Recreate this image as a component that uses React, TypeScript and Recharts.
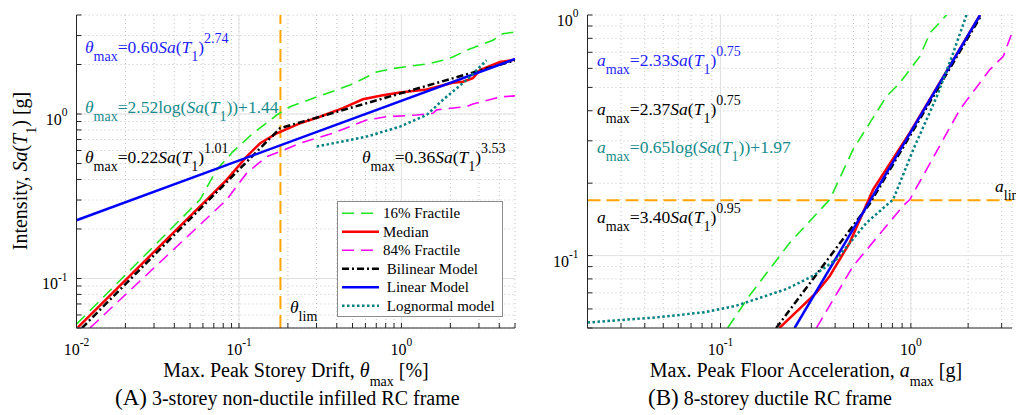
import React from 'react';
import { LineChart, Line, XAxis, YAxis, CartesianGrid, ReferenceLine } from 'recharts';

const FONT = '"Liberation Serif", "Times New Roman", serif';

// ---- panel A: drift [%] vs Sa(T1) [g]
const aGreenDrift = [0.01, 0.0575, 0.0729, 0.0919, 0.122, 0.171, 0.206, 0.301, 0.399, 0.482, 0.611, 0.703, 0.886, 1.5, 1.8, 2.07, 2.52, 3.66, 4.21, 5.0];
const aGreenSa = [0.0527, 0.301, 0.458, 0.591, 0.764, 0.986, 1.107, 1.27, 1.4, 1.5, 1.68, 1.8, 1.89, 2.03, 2.12, 2.22, 2.44, 2.81, 3.08, 3.15];
const aMedianDrift = [0.0102, 0.0632, 0.0839, 0.1115, 0.135, 0.171, 0.237, 0.315, 0.436, 0.579, 0.769, 0.979, 1.43, 2.07, 2.39, 2.75, 3.04, 4.04, 5.0];
const aMedianSa = [0.0505, 0.301, 0.398, 0.551, 0.664, 0.764, 0.878, 0.963, 1.087, 1.23, 1.3, 1.35, 1.41, 1.55, 1.57, 1.65, 1.85, 2.07, 2.14];
const aMagentaDrift = [0.0121, 0.0839, 0.1115, 0.148, 0.179, 0.237, 0.379, 0.611, 0.811, 1.24, 1.56, 1.65, 2.52, 2.75, 4.04, 5.0];
const aMagentaSa = [0.05, 0.301, 0.437, 0.551, 0.591, 0.664, 0.764, 0.92, 0.963, 0.986, 1.01, 1.06, 1.11, 1.15, 1.27, 1.29];
const aBilinearDrift = [0.0108, 0.179, 5.0];
const aBilinearSa = [0.05, 0.82, 2.12];
const aLinearDrift = [0.01, 5.0];
const aLinearSa = [0.226, 2.16];
const aLognormDrift = [0.301, 0.482, 0.611, 0.979, 1.43, 1.8, 2.52, 2.9, 3.34];
const aLognormSa = [0.634, 0.696, 0.729, 0.838, 0.986, 1.22, 1.61, 1.85, 2.12];
const aThetaLim = 0.18;

// ---- panel B: floor acceleration [g] vs Sa(T1) [g]
const bGreenAcc = [0.109, 0.142, 0.231, 0.375, 0.497, 0.745, 0.875, 1.115, 1.26, 1.54];
const bGreenSa = [0.05, 0.0682, 0.113, 0.171, 0.276, 0.459, 0.522, 0.673, 0.842, 1.0];
const bMedianAcc = [0.204, 0.319, 0.375, 0.477, 0.633, 0.988, 1.54, 2.31];
const bMedianSa = [0.05, 0.0701, 0.0823, 0.113, 0.188, 0.324, 0.583, 1.0];
const bMagentaAcc = [0.319, 0.497, 0.911, 0.988, 1.48, 1.81, 2.6, 3.06, 3.45];
const bMagentaSa = [0.05, 0.0904, 0.161, 0.171, 0.304, 0.405, 0.593, 0.673, 0.87];
const bBilinearAcc = [0.196, 0.61, 2.35];
const bBilinearSa = [0.05, 0.165, 1.0];
const bLinearAcc = [0.245, 2.31];
const bLinearSa = [0.05, 1.0];
const bLognormAcc = [0.02, 0.0441, 0.0808, 0.121, 0.222, 0.306, 0.407, 0.585, 0.807, 1.03, 1.37, 1.67, 1.96];
const bLognormSa = [0.0527, 0.0552, 0.058, 0.0619, 0.0726, 0.0823, 0.0966, 0.137, 0.171, 0.276, 0.459, 0.696, 1.0];
const bAccLim = 0.17;

// ---- ticks
const aXTicks = [0.01, 0.02, 0.03, 0.04, 0.05, 0.06, 0.07, 0.08, 0.09, 0.1, 0.2, 0.3, 0.4, 0.5, 0.6, 0.7, 0.8, 0.9, 1, 2, 3, 4, 5];
const aYTicks = [0.05, 0.06, 0.07, 0.08, 0.09, 0.1, 0.2, 0.3, 0.4, 0.5, 0.6, 0.7, 0.8, 0.9, 1, 2, 3, 4];
const bXTicks = [0.02, 0.03, 0.04, 0.05, 0.06, 0.07, 0.08, 0.09, 0.1, 0.2, 0.3, 0.4, 0.5, 0.6, 0.7, 0.8, 0.9, 1, 2, 3];
const bYTicks = [0.05, 0.06, 0.07, 0.08, 0.09, 0.1, 0.2, 0.3, 0.4, 0.5, 0.6, 0.7, 0.8, 0.9, 1];
const aMajorX = [0.1, 1];
const aMajorY = [0.1, 1];
const bMajorX = [0.1, 1];
const bMajorY = [0.1];

const pts = (xs: number[], ys: number[]) => xs.map((x, i) => ({ x, y: ys[i] }));

const series = [
  { name: '16% Fractile', color: '#1ee81e', width: 1.6, dash: '12 7' },
  { name: 'Median', color: '#ff0000', width: 2.5, dash: undefined },
  { name: '84% Fractile', color: '#ff00ff', width: 1.6, dash: '12 7' },
  { name: ' Bilinear Model', color: '#000000', width: 2.5, dash: '7 3 2 3' },
  { name: ' Linear Model', color: '#0000ff', width: 2.5, dash: undefined },
  { name: ' Lognormal model', color: '#008080', width: 2.5, dash: '2.5 2.5' },
];

const panelA = [
  pts(aGreenDrift, aGreenSa),
  pts(aMedianDrift, aMedianSa),
  pts(aMagentaDrift, aMagentaSa),
  pts(aBilinearDrift, aBilinearSa),
  pts(aLinearDrift, aLinearSa),
  pts(aLognormDrift, aLognormSa),
];
const panelB = [
  pts(bGreenAcc, bGreenSa),
  pts(bMedianAcc, bMedianSa),
  pts(bMagentaAcc, bMagentaSa),
  pts(bBilinearAcc, bBilinearSa),
  pts(bLinearAcc, bLinearSa),
  pts(bLognormAcc, bLognormSa),
];

type Seg = [string, string?]; // flags: i = italic, b = subscript, p = superscript

function Rich({ x, y, size, small, segs, fill = '#000', anchor = 'start', transform }: {
  x: number; y: number; size: number; small: number; segs: Seg[]; fill?: string; anchor?: string; transform?: string;
}) {
  let cur = 0;
  return (
    <text x={x} y={y} fontSize={size} fill={fill} textAnchor={anchor} transform={transform} style={{ whiteSpace: 'pre' }}>
      {segs.map(([t, f = ''], k) => {
        const target = f.includes('b') ? size * 0.45 : f.includes('p') ? -size * 0.55 : 0;
        const dy = target - cur;
        cur = target;
        const isSmall = f.includes('b') || f.includes('p');
        return (
          <tspan key={k} dy={dy} fontSize={isSmall ? small : size} fontStyle={f.includes('i') ? 'italic' : 'normal'}>
            {t}
          </tspan>
        );
      })}
    </text>
  );
}

const decade = (v: number) => {
  const l = Math.log10(v);
  const r = Math.round(l);
  return Math.abs(l - r) < 1e-6 ? r : null;
};

const XTick = (p: any) => {
  const e = decade(p.payload.value);
  if (e === null) return <g />;
  return <Rich x={p.x} y={p.y + 32} size={16} small={11.5} anchor="middle" segs={[['10'], [String(e), 'p']]} />;
};
const YTick = (p: any) => {
  const e = decade(p.payload.value);
  if (e === null) return <g />;
  return <Rich x={p.x - 14} y={p.y + 11} size={16} small={11.5} anchor="end" segs={[['10'], [String(e), 'p']]} />;
};
const noTick = () => <g />;

const AXIS = '#262626';

function Panel({ width, xDomain, yDomain, xTicks, yTicks, majorX, majorY, data, yAxisWidth, right, limX, limY }: any) {
  return (
    <LineChart width={width} height={415} margin={{ top: 15, right, bottom: 0, left: 0 }}>
      <CartesianGrid stroke="#c4c4c4" strokeDasharray="1 3" />
      {majorX.map((v: number) => <ReferenceLine key={'mx' + v} x={v} stroke="#e2e2e2" />)}
      {majorY.map((v: number) => <ReferenceLine key={'my' + v} y={v} stroke="#e2e2e2" />)}
      <XAxis type="number" dataKey="x" scale="log" domain={xDomain} allowDataOverflow ticks={xTicks} interval={0}
        tick={XTick} tickSize={-5} tickMargin={0} height={87} stroke={AXIS} />
      <XAxis xAxisId="top" orientation="top" type="number" scale="log" domain={xDomain} allowDataOverflow ticks={xTicks}
        interval={0} tick={noTick} tickSize={-5} height={0} stroke={AXIS} />
      <YAxis type="number" scale="log" domain={yDomain} allowDataOverflow ticks={yTicks} interval={0}
        tick={YTick} tickSize={-5} tickMargin={0} width={yAxisWidth} stroke={AXIS} />
      <YAxis yAxisId="right" orientation="right" type="number" scale="log" domain={yDomain} allowDataOverflow ticks={yTicks}
        interval={0} tick={noTick} tickSize={-5} width={0} stroke={AXIS} />
      {limX !== undefined && <ReferenceLine x={limX} stroke="#ffa500" strokeWidth={2} strokeDasharray="13 6" />}
      {limY !== undefined && <ReferenceLine y={limY} stroke="#ffa500" strokeWidth={2} strokeDasharray="13 6" />}
      {series.map((s, i) => (
        <Line key={s.name} data={data[i]} dataKey="y" type="linear" stroke={s.color} strokeWidth={s.width}
          strokeDasharray={s.dash} dot={false} activeDot={false} isAnimationActive={false} />
      ))}
    </LineChart>
  );
}

const BLUE = '#1f1fff';
const TEAL = '#168c8c';
const EQ = 17.5;
const EQS = 14;
const eqSa = (coef: string, exp: string, sym: string): Seg[] => [[sym, 'i'], ['max', 'b'], ['=' + coef], ['Sa', 'i'], ['('], ['T', 'i'], ['1', 'b'], [')'], [exp, 'p']];
const eqLog = (coef: string, c: string, sym: string): Seg[] => [[sym, 'i'], ['max', 'b'], ['=' + coef + 'log('], ['Sa', 'i'], ['('], ['T', 'i'], ['1', 'b'], ['))+' + c]];

export default function App() {
  return (
    <div style={{ position: 'absolute', left: 0, top: 0, width: 1016, height: 415, background: '#fff', fontFamily: FONT, overflow: 'hidden' }}>
      <div style={{ position: 'absolute', left: 0, top: 0 }}>
        <Panel width={520} right={5} yAxisWidth={76.5} xDomain={[0.01, 5]} yDomain={[0.05, 4]} xTicks={aXTicks} yTicks={aYTicks}
          majorX={aMajorX} majorY={aMajorY} data={panelA} limX={aThetaLim} />
      </div>
      <div style={{ position: 'absolute', left: 520, top: 0 }}>
        <Panel width={496} right={4} yAxisWidth={67.5} xDomain={[0.02, 3.4]} yDomain={[0.05, 1]} xTicks={bXTicks} yTicks={bYTicks}
          majorX={bMajorX} majorY={bMajorY} data={panelB} limY={bAccLim} />
      </div>
      <svg width={1016} height={415} style={{ position: 'absolute', left: 0, top: 0, pointerEvents: 'none' }}>
        {/* equations, panel A */}
        <Rich x={85} y={53} size={EQ} small={EQS} fill={BLUE} segs={eqSa('0.60', '2.74', 'θ')} />
        <Rich x={85} y={113} size={EQ} small={EQS} fill={TEAL} segs={eqLog('2.52', '1.44', 'θ')} />
        <Rich x={85} y={163} size={EQ} small={EQS} segs={eqSa('0.22', '1.01', 'θ')} />
        <Rich x={362} y={163} size={EQ} small={EQS} segs={eqSa('0.36', '3.53', 'θ')} />
        <Rich x={290} y={313} size={EQ} small={EQS} segs={[['θ', 'i'], ['lim', 'b']]} />
        {/* equations, panel B */}
        <Rich x={597} y={66} size={EQ} small={EQS} fill={BLUE} segs={eqSa('2.33', '0.75', 'a')} />
        <Rich x={597} y={115} size={EQ} small={EQS} segs={eqSa('2.37', '0.75', 'a')} />
        <Rich x={597} y={153} size={EQ} small={EQS} fill={TEAL} segs={eqLog('0.65', '1.97', 'a')} />
        <Rich x={597} y={223} size={EQ} small={EQS} segs={eqSa('3.40', '0.95', 'a')} />
        <Rich x={995} y={192} size={EQ} small={EQS} segs={[['a', 'i'], ['lim', 'b']]} />

        {/* axis titles */}
        <Rich x={296} y={377} size={20} small={14} anchor="middle" segs={[['Max. Peak Storey Drift, '], ['θ', 'i'], ['max', 'b'], [' [%]']]} />
        <Rich x={806} y={377} size={20} small={14} anchor="middle" segs={[['Max. Peak Floor Acceleration, '], ['a', 'i'], ['max', 'b'], [' [g]']]} />
        <Rich x={27} y={171} size={20} small={14} anchor="middle" transform="rotate(-90 27 171)"
          segs={[['Intensity, '], ['Sa', 'i'], ['('], ['T', 'i'], ['1', 'b'], [') [g]']]} />

        {/* captions */}
        <text x={115} y={405} style={{ whiteSpace: 'pre' }}>
          <tspan fontSize={23}>(A)</tspan>
          <tspan fontSize={20}> 3-storey non-ductile infilled RC frame</tspan>
        </text>
        <text x={648} y={405} style={{ whiteSpace: 'pre' }}>
          <tspan fontSize={23}>(B)</tspan>
          <tspan fontSize={20}> 8-storey ductile RC frame</tspan>
        </text>

        {/* legend */}
        <rect x={337.5} y={201.5} width={165} height={115} fill="#fff" stroke="#8c8c8c" />
        {series.map((s, i) => {
          const cy = 213.3 + i * 18.5;
          return (
            <g key={s.name}>
              <line x1={342} x2={379} y1={cy} y2={cy} stroke={s.color} strokeWidth={s.width} strokeDasharray={s.dash} />
              <text x={383} y={cy + 5} fontSize={15} style={{ whiteSpace: 'pre' }}>{s.name}</text>
            </g>
          );
        })}
      </svg>
    </div>
  );
}
